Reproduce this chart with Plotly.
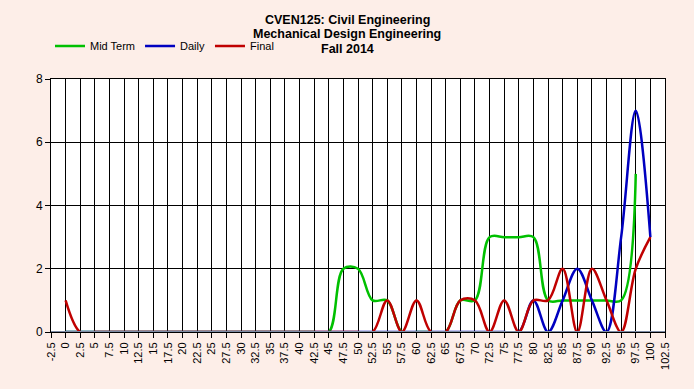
import plotly.graph_objects as go

# ---- data ----
scores = [0, 2.5, 5, 7.5, 10, 12.5, 15, 17.5, 20, 22.5, 25, 27.5, 30, 32.5, 35, 37.5, 40,
          42.5, 45, 47.5, 50, 52.5, 55, 57.5, 60, 62.5, 65, 67.5, 70, 72.5, 75, 77.5, 80,
          82.5, 85, 87.5, 90, 92.5, 95, 97.5, 100]

mid_term = [0, 0, 0, 0, 0, 0, 0, 0, 0, 0, 0, 0, 0, 0, 0, 0, 0,
            0, 0, 2, 2, 1, 1, 0, 0, 0, 0, 1, 1, 3, 3, 3, 3,
            1, 1, 1, 1, 1, 1, 5, None]

daily = [0, 0, 0, 0, 0, 0, 0, 0, 0, 0, 0, 0, 0, 0, 0, 0, 0,
         0, 0, 0, 0, 0, 0, 0, 0, 0, 0, 0, 0, 0, 0, 0, 1,
         0, 1, 2, 1, 0, 3, 7, 3]

final = [1, 0, 0, 0, 0, 0, 0, 0, 0, 0, 0, 0, 0, 0, 0, 0, 0,
         0, 0, 0, 0, 0, 1, 0, 1, 0, 0, 1, 1, 0, 1, 0, 1,
         1, 2, 0, 2, 1, 0, 2, 3]

x_tick_vals = [-2.5, 0, 2.5, 5, 7.5, 10, 12.5, 15, 17.5, 20, 22.5, 25, 27.5, 30, 32.5, 35,
               37.5, 40, 42.5, 45, 47.5, 50, 52.5, 55, 57.5, 60, 62.5, 65, 67.5, 70, 72.5,
               75, 77.5, 80, 82.5, 85, 87.5, 90, 92.5, 95, 97.5, 100, 102.5]
x_tick_text = ["-2.5", "0", "2.5", "5", "7.5", "10", "12.5", "15", "17.5", "20", "22.5",
               "25", "27.5", "30", "32.5", "35", "37.5", "40", "42.5", "45", "47.5", "50",
               "52.5", "55", "57.5", "60", "62.5", "65", "67.5", "70", "72.5", "75", "77.5",
               "80", "82.5", "85", "87.5", "90", "92.5", "95", "97.5", "100", "102.5"]

title_lines = ["CVEN125: Civil Engineering", "Mechanical Design Engineering", "Fall 2014"]

series = [("Mid Term", mid_term, "#00C000"),
          ("Daily", daily, "#0000C0"),
          ("Final", final, "#C00000")]

FONT = "Liberation Sans, Arial, sans-serif"
W, H = 694, 389
L, R, T, B = 51, 29, 79, 57
PW, PH = W - L - R, H - T - B

fig = go.Figure()
for name, vals, color in series:
    fig.add_trace(go.Scatter(
        x=scores, y=vals, name=name, mode="lines",
        line=dict(color=color, width=2.5, shape="spline", smoothing=1),
        connectgaps=False,
    ))

# three-line chart title (placed line by line to match the original's tight leading)
for line_text, yc in zip(title_lines, [20, 34.5, 49]):
    fig.add_annotation(
        text="<b>%s</b>" % line_text, showarrow=False,
        xref="paper", yref="paper",
        x=(347 - L) / PW, xanchor="center",
        y=1 + (T - yc) / PH, yanchor="middle",
        font=dict(family=FONT, size=12.5, color="#000000"),
    )

fig.update_layout(
    width=W, height=H,
    margin=dict(l=L, r=R, t=T, b=B, autoexpand=False),
    paper_bgcolor="#fdeee8",
    plot_bgcolor="#ffffff",
    font=dict(family=FONT, size=11, color="#000000"),
    showlegend=True,
    legend=dict(
        orientation="h", xref="container", yref="container",
        x=50 / W, xanchor="left", y=1 - 46 / H, yanchor="middle",
        bgcolor="rgba(0,0,0,0)", font=dict(family=FONT, size=11, color="#000000"),
    ),
    xaxis=dict(
        range=[-2.5, 102.5], tickmode="array", tickvals=x_tick_vals, ticktext=x_tick_text,
        tickangle=-90, ticks="outside", ticklen=5, tickcolor="#000000", tickwidth=1,
        showgrid=True, gridcolor="#000000", gridwidth=1,
        showline=True, linecolor="#000000", linewidth=1, mirror=True,
        zeroline=False, automargin=False,
        tickfont=dict(family=FONT, size=11, color="#000000"),
    ),
    yaxis=dict(
        range=[0, 8], tickmode="linear", tick0=0, dtick=2,
        ticks="outside", ticklen=5, tickcolor="#000000", tickwidth=1,
        showgrid=True, gridcolor="#000000", gridwidth=1,
        showline=True, linecolor="#000000", linewidth=1, mirror=True,
        zeroline=False, automargin=False,
        tickfont=dict(family=FONT, size=12, color="#000000"),
    ),
)

# baseline drawn over the zero-valued stretches, as in the original
fig.add_shape(type="line", xref="x domain", yref="y", x0=0, x1=1, y0=0, y1=0,
              line=dict(color="#7d8aa3", width=2), layer="above")

fig.write_html("out.html", config={"displayModeBar": False},
               post_script="document.body.style.margin='0';document.body.style.overflow='hidden';")
